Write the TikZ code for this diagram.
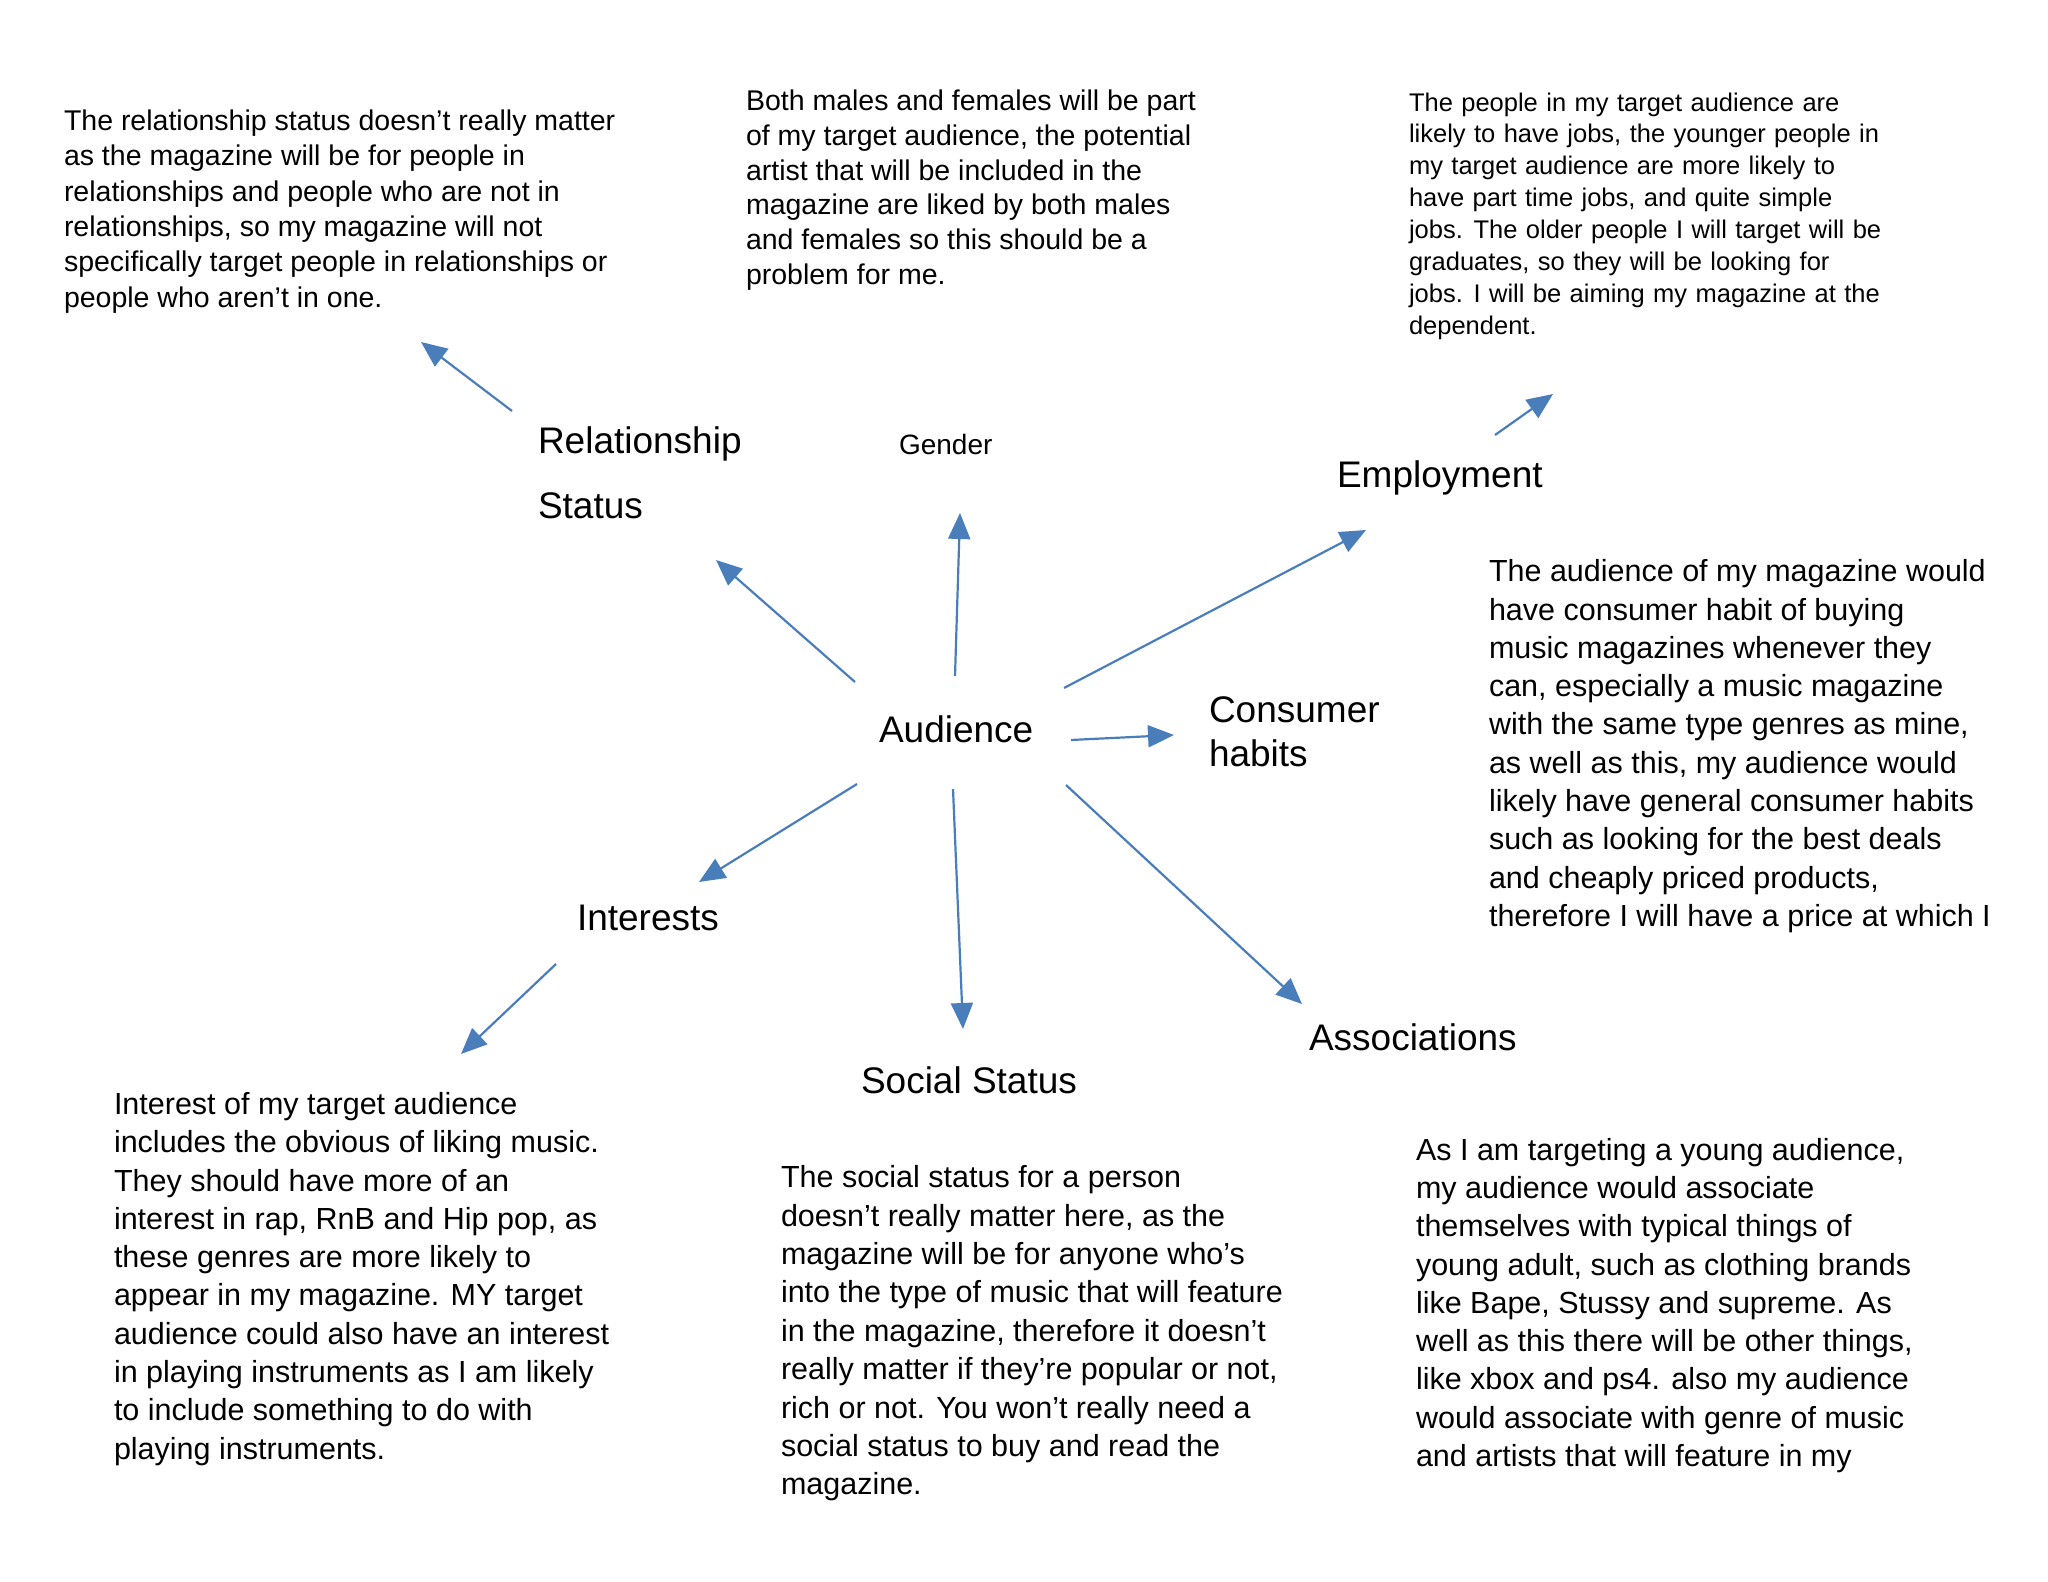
\documentclass[tikz,border=0pt]{standalone}
\usepackage{fontspec}
\setmainfont{Liberation Sans}
\usetikzlibrary{arrows.meta}
\definecolor{arrowblue}{HTML}{4A7EBB}
\tikzset{
  txtbox/.style={anchor=north west, inner sep=0pt, outer sep=0pt, align=left, text=black},
  lbl/.style={anchor=base west, inner sep=0pt, outer sep=0pt, text=black, font=\fontsize{18.5}{22}\selectfont},
  arr/.style={draw=arrowblue, line width=1.1pt, -{Triangle[length=13pt,width=11pt]}}
}
\begin{document}
\begin{tikzpicture}[x=0.5pt,y=-0.5pt]
\path[use as bounding box, fill=white] (0,0) rectangle (2048,1582);

% description texts
\node[txtbox, font=\fontsize{14.25}{17.65}\selectfont] (reltext) at (64,110) {The relationship status doesn’t really matter\\as the magazine will be for people in\\relationships and people who are not in\\relationships, so my magazine will not\\specifically target people in relationships or\\people who aren’t in one.};

\node[txtbox, font=\fontsize{14.25}{17.35}\selectfont] (gentext) at (746,90.2) {Both males and females will be part\\of my target audience, the potential\\artist that will be included in the\\magazine are liked by both males\\and females so this should be a\\problem for me.};

\node[txtbox, font=\fontsize{12.75}{15.95}\selectfont, text width=300pt, align=justify] (emptext) at (1409,92.6) {\parfillskip=0pt plus 1fil\spaceskip=0.33em plus 0.5em The people in my target audience are\\likely to have jobs, the younger people in\\my target audience are more likely to\\have part time jobs, and quite simple\\jobs. The older people I will target will be\\graduates, so they will be looking for\\jobs. I will be aiming my magazine at the\\dependent.};

\node[txtbox, font=\fontsize{15.25}{19.15}\selectfont] (context) at (1489,559.6) {The audience of my magazine would\\have consumer habit of buying\\music magazines whenever they\\can, especially a music magazine\\with the same type genres as mine,\\as well as this, my audience would\\likely have general consumer habits\\such as looking for the best deals\\and cheaply priced products,\\therefore I will have a price at which I};

\node[txtbox, font=\fontsize{15.25}{19.15}\selectfont] (inttext) at (114,1092.3) {Interest of my target audience\\includes the obvious of liking music.\\They should have more of an\\interest in rap, RnB and Hip pop, as\\these genres are more likely to\\appear in my magazine. MY target\\audience could also have an interest\\in playing instruments as I am likely\\to include something to do with\\playing instruments.};

\node[txtbox, font=\fontsize{15.25}{19.2}\selectfont] (soctext) at (781,1165.6) {The social status for a person\\doesn’t really matter here, as the\\magazine will be for anyone who’s\\into the type of music that will feature\\in the magazine, therefore it doesn’t\\really matter if they're popular or not,\\rich or not. You won’t really need a\\social status to buy and read the\\magazine.};

\node[txtbox, font=\fontsize{15.25}{19.15}\selectfont] (asstext) at (1416,1138) {As I am targeting a young audience,\\my audience would associate\\themselves with typical things of\\young adult, such as clothing brands\\like Bape, Stussy and supreme. As\\well as this there will be other things,\\like xbox and ps4. also my audience\\would associate with genre of music\\and artists that will feature in my};

% labels
\node[lbl] (rel) at (538,453.8) {Relationship};
\node[lbl] (relb) at (538,519) {Status};
\node[lbl, font=\fontsize{14}{17}\selectfont] (gender) at (899,455) {Gender};
\node[lbl] (emp) at (1337,487.7) {Employment};
\node[lbl] (aud) at (879,742.4) {Audience};
\node[lbl] (cons) at (1209,722.8) {Consumer};
\node[lbl] (consb) at (1209,766) {habits};
\node[lbl] (int) at (577,930.5) {Interests};
\node[lbl] (soc) at (861,1093.7) {Social Status};
\node[lbl] (ass) at (1309,1050.6) {Associations};

% arrow end points
\coordinate (a1s) at (512,411);  \coordinate (a1e) at (421,342);
\coordinate (a2s) at (855,682);  \coordinate (a2e) at (716,560);
\coordinate (a3s) at (955,676);  \coordinate (a3e) at (960,513);
\coordinate (a4s) at (1064,688); \coordinate (a4e) at (1366,530);
\coordinate (a5s) at (1495,435); \coordinate (a5e) at (1553,394);
\coordinate (a6s) at (1071,740); \coordinate (a6e) at (1174,735);
\coordinate (a7s) at (857,784);  \coordinate (a7e) at (699,882);
\coordinate (a8s) at (556,964);  \coordinate (a8e) at (461,1054);
\coordinate (a9s) at (953,789);  \coordinate (a9e) at (963,1029);
\coordinate (a10s) at (1066,785); \coordinate (a10e) at (1302,1004);

\draw[arr] (a1s) -- (a1e);
\draw[arr] (a2s) -- (a2e);
\draw[arr] (a3s) -- (a3e);
\draw[arr] (a4s) -- (a4e);
\draw[arr] (a5s) -- (a5e);
\draw[arr] (a6s) -- (a6e);
\draw[arr] (a7s) -- (a7e);
\draw[arr] (a8s) -- (a8e);
\draw[arr] (a9s) -- (a9e);
\draw[arr] (a10s) -- (a10e);
\end{tikzpicture}
\end{document}
